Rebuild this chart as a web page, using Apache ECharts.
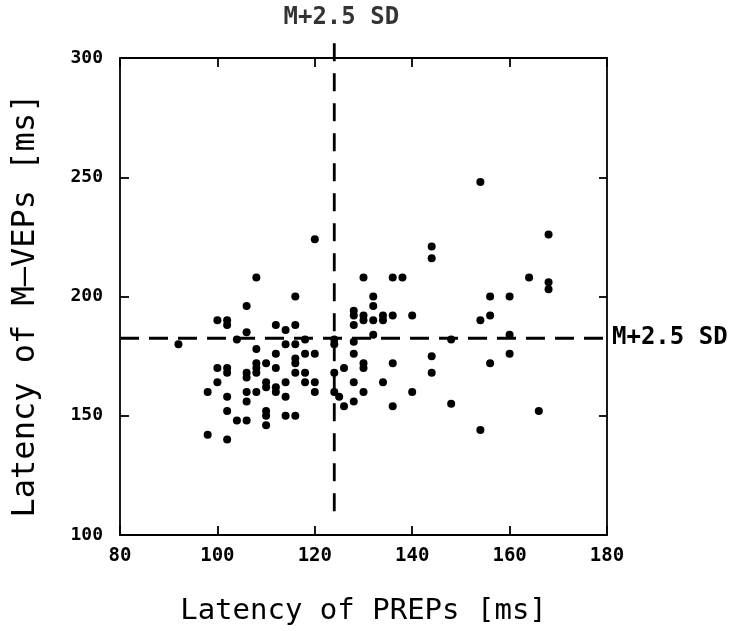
<!DOCTYPE html>
<html><head><meta charset="utf-8">
<script src="https://cdn.jsdelivr.net/npm/echarts@6/dist/echarts.min.js"></script>
<style>html,body{margin:0;padding:0;background:#fff}#c{width:750px;height:631px}</style>
</head><body><div id="c"></div><script>
// PREP latency (x) and M-VEP latency (y), ms
const prepLatency = [92,98,98,100,100,100,102,102,102,102,102,102,102,104,104,106,106,106,106,106,106,106,108,108,108,108,108,108,110,110,110,110,110,110,112,112,112,112,112,114,114,114,114,114,116,116,116,116,116,116,116,118,118,118,118,120,120,120,120,124,124,124,124,125,126,126,128,128,128,128,128,128,128,130,130,130,130,130,130,132,132,132,132,134,134,134,136,136,136,136,138,140,140,144,144,144,144,148,148,154,154,154,156,156,156,160,160,160,164,166,168,168,168];
const mvepLatency = [180,160,142,190,170,164,190,188,170,168,158,152,140,182,148,196,185,168,166,160,156,148,208,178,172,170,168,160,172,164,162,152,150,146,188,176,170,162,160,186,180,164,158,150,200,188,180,174,172,168,150,182,176,168,164,224,176,164,160,182,180,168,160,158,170,154,194,192,188,181,176,164,156,208,192,190,172,170,160,200,196,190,184,192,190,164,208,192,172,154,208,192,160,221,216,175,168,182,155,248,190,144,200,192,172,200,184,176,208,152,226,206,203];
const xTicks = [80, 100, 120, 140, 160, 180];
const yTicks = [100, 150, 200, 250, 300];
const prepCutoff = 124;    // M+2.5 SD of PREP latency
const mvepCutoff = 182.5;  // M+2.5 SD of M-VEP latency
const cutoffLabel = 'M+2.5 SD';
const xTitle = 'Latency of PREPs [ms]';
const yTitle = 'Latency of M\u2013VEPs [ms]';

const FONT = "'DejaVu Sans Mono', monospace";
const points = prepLatency.map((x, i) => [x, mvepLatency[i]]);
const xMin = xTicks[0], xMax = xTicks[xTicks.length - 1];
const yMin = yTicks[0], yMax = yTicks[yTicks.length - 1];
const lineStyleAxis = { color: '#000', width: 1.8 };

const chart = echarts.init(document.getElementById('c'), null, { renderer: 'canvas' });
chart.setOption({
  backgroundColor: '#fff',
  animation: false,
  grid: { left: 120, top: 58, width: 487, height: 489, containLabel: false },
  xAxis: [
    {
      type: 'value', min: xMin, max: xMax, interval: 20, position: 'bottom',
      axisLine: { show: true, onZero: false, lineStyle: lineStyleAxis },
      axisTick: { show: true, inside: true, length: 9, lineStyle: lineStyleAxis },
      splitLine: { show: false },
      axisLabel: { color: '#000', fontFamily: FONT, fontSize: 19, fontWeight: 'bold', margin: 12 },
      name: xTitle, nameLocation: 'middle', nameGap: 62,
      nameTextStyle: { color: '#000', fontFamily: FONT, fontSize: 29 }
    },
    {
      type: 'value', min: xMin, max: xMax, interval: 20, position: 'top',
      axisLine: { show: true, onZero: false, lineStyle: lineStyleAxis },
      axisTick: { show: true, inside: true, length: 9, lineStyle: lineStyleAxis },
      splitLine: { show: false }, axisLabel: { show: false }
    }
  ],
  yAxis: [
    {
      type: 'value', min: yMin, max: yMax, interval: 50, position: 'left',
      axisLine: { show: true, onZero: false, lineStyle: lineStyleAxis },
      axisTick: { show: true, inside: true, length: 9, lineStyle: lineStyleAxis },
      splitLine: { show: false },
      axisLabel: { color: '#000', fontFamily: FONT, fontSize: 18, fontWeight: 'bold', margin: 17 },
      name: yTitle, nameLocation: 'middle', nameGap: 78,
      nameTextStyle: { color: '#000', fontFamily: FONT, fontSize: 32, padding: [0, 18, 0, 0] }
    },
    {
      type: 'value', min: yMin, max: yMax, interval: 50, position: 'right',
      axisLine: { show: true, onZero: false, lineStyle: lineStyleAxis },
      axisTick: { show: true, inside: true, length: 8, lineStyle: lineStyleAxis },
      splitLine: { show: false }, axisLabel: { show: false }
    }
  ],
  series: [
    {
      type: 'line', xAxisIndex: 0, yAxisIndex: 0, clip: false, silent: true,
      symbol: 'none',
      data: [[prepCutoff, 110], [prepCutoff, 306.8]],
      lineStyle: { color: '#000', width: 2.8, type: [18, 12] }
    },
    {
      type: 'line', xAxisIndex: 0, yAxisIndex: 0, clip: false, silent: true,
      symbol: 'none',
      data: [[xMin, mvepCutoff], [184, mvepCutoff]],
      lineStyle: { color: '#000', width: 2.8, type: [19, 10] },
      endLabel: { show: true, formatter: cutoffLabel, color: '#000', fontFamily: FONT, fontSize: 24, fontWeight: 'bold', distance: 3 }
    },
    {
      type: 'scatter', xAxisIndex: 0, yAxisIndex: 0, clip: false, silent: true,
      symbolSize: 0,
      data: [[prepCutoff, 317]],
      label: { show: true, position: 'inside', offset: [7, 0], formatter: cutoffLabel, color: '#000', fontFamily: FONT, fontSize: 24, fontWeight: 'bold' }
    },
    {
      type: 'scatter', xAxisIndex: 0, yAxisIndex: 0,
      symbol: 'circle', symbolSize: 8,
      itemStyle: { color: '#000', opacity: 1 },
      data: points
    }
  ]
});
</script></body></html>
